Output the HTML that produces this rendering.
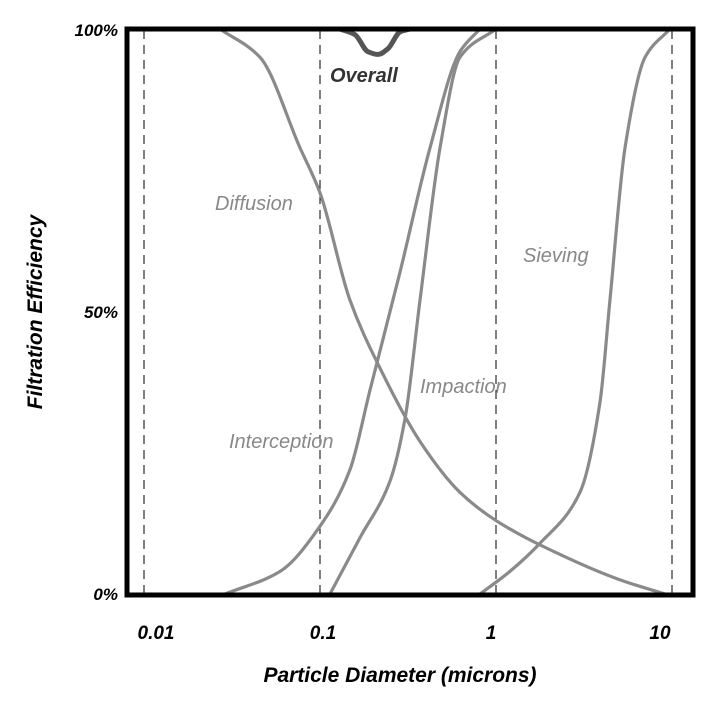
<!DOCTYPE html>
<html><head><meta charset="utf-8"><style>
html,body{margin:0;padding:0;background:#fff;}
svg text{font-family:"Liberation Sans",Arial,sans-serif;font-style:italic;}
</style></head><body>
<svg id="chart" width="712" height="704" viewBox="0 0 712 704">
<g id="grid"></g>
<g id="curves"></g>
<rect x="127" y="29" width="566" height="566" fill="none" stroke="#000" stroke-width="5"/>
<g id="ticks"></g>
<text x="118" y="600" text-anchor="end" font-size="17" font-weight="bold">0%</text>
<text x="118" y="318" text-anchor="end" font-size="17" font-weight="bold">50%</text>
<text x="118" y="36" text-anchor="end" font-size="17" font-weight="bold">100%</text>
<text transform="translate(42,312) rotate(-90)" text-anchor="middle" font-size="21" font-weight="bold">Filtration Efficiency</text>
<text x="400" y="682" text-anchor="middle" font-size="21" font-weight="bold">Particle Diameter (microns)</text>
<text x="215" y="210" font-size="20" fill="#888">Diffusion</text>
<text x="229" y="448" font-size="20" fill="#888">Interception</text>
<text x="420" y="393" font-size="20" fill="#888">Impaction</text>
<text x="523" y="262" font-size="20" fill="#888">Sieving</text>
<text x="330" y="82" font-size="20" font-weight="bold" fill="#333">Overall</text>
</svg>
<script>
const tickValues=[0.01,0.1,1,10];
const tickLabels=["0.01","0.1","1","10"];
const diffusionD=[0.027,0.0456,0.0769,0.1,0.148,0.219,0.370,0.624,1,2.31,5.07,9.12];
const diffusionE=[100,95,79,71,52,40,27,18,13,7,2.5,0];
const interceptionD=[0.0289,0.0593,0.1,0.148,0.192,0.285,0.422,0.624,0.811];
const interceptionE=[0,4,12,22,36,57,79,96,100];
const impactionD=[0.114,0.169,0.250,0.304,0.370,0.481,0.624,1];
const impactionE=[0,10,20,31,52,79,95,100];
const sievingD=[0.811,1.20,1.78,3.00,3.90,4.44,5.41,7.03,9.74];
const sievingE=[0,4,9,18,34,52,79,95,100];
const overallD=[0.130,0.158,0.187,0.214,0.243,0.285,0.325];
const overallE=[100,99,96,95.5,96.5,99.5,100];

const NS="http://www.w3.org/2000/svg";
function xs(d){return 496+176*Math.log10(d);}
function ys(e){return 594-5.65*e;}
function monotone(pts){
  const n=pts.length,dx=[],m=[],t=[];
  for(let i=0;i<n-1;i++){dx[i]=pts[i+1][0]-pts[i][0];m[i]=(pts[i+1][1]-pts[i][1])/dx[i];}
  t[0]=m[0];t[n-1]=m[n-2];
  for(let i=1;i<n-1;i++){
    if(m[i-1]*m[i]<=0)t[i]=0;
    else{const w1=2*dx[i]+dx[i-1],w2=dx[i]+2*dx[i-1];t[i]=(w1+w2)/(w1/m[i-1]+w2/m[i]);}
  }
  let s="M"+pts[0][0]+","+pts[0][1];
  for(let i=0;i<n-1;i++){
    const h=dx[i]/3;
    s+=" C"+(pts[i][0]+h)+","+(pts[i][1]+t[i]*h)+" "+(pts[i+1][0]-h)+","+(pts[i+1][1]-t[i+1]*h)+" "+pts[i+1][0]+","+pts[i+1][1];
  }
  return s;
}
const grid=document.getElementById('grid');
const ticks=document.getElementById('ticks');
const labelShift=[12,3,-5,-12];
tickValues.forEach((v,i)=>{
  const l=document.createElementNS(NS,'line');
  l.setAttribute('x1',xs(v));l.setAttribute('x2',xs(v));
  l.setAttribute('y1',30);l.setAttribute('y2',594);
  l.setAttribute('stroke','#000');l.setAttribute('stroke-width','1');
  l.setAttribute('stroke-dasharray','9,6');
  
  
  grid.appendChild(l);
  const t=document.createElementNS(NS,'text');
  t.setAttribute('x',xs(v)+labelShift[i]);t.setAttribute('y',639);
  t.setAttribute('text-anchor','middle');t.setAttribute('font-size','19');
  t.setAttribute('font-weight','bold');
  t.textContent=tickLabels[i];
  
  
  ticks.appendChild(t);
});
const curves=document.getElementById('curves');
function addCurve(D,E,name,color,w){
  const pts=D.map((d,i)=>[xs(d),ys(E[i])]);
  const p=document.createElementNS(NS,'path');
  p.setAttribute('d',monotone(pts));
  p.setAttribute('fill','none');p.setAttribute('stroke',color);
  p.setAttribute('stroke-width',w);
  
  
  curves.appendChild(p);
}
addCurve(diffusionD,diffusionE,'diffusion-curve','#8a8a8a',3.2);
addCurve(interceptionD,interceptionE,'interception-curve','#8a8a8a',3.2);
addCurve(impactionD,impactionE,'impaction-curve','#8a8a8a',3.2);
addCurve(sievingD,sievingE,'sieving-curve','#8a8a8a',3.2);
addCurve(overallD,overallE,'overall-curve','#555',5);
</script>
</body></html>
